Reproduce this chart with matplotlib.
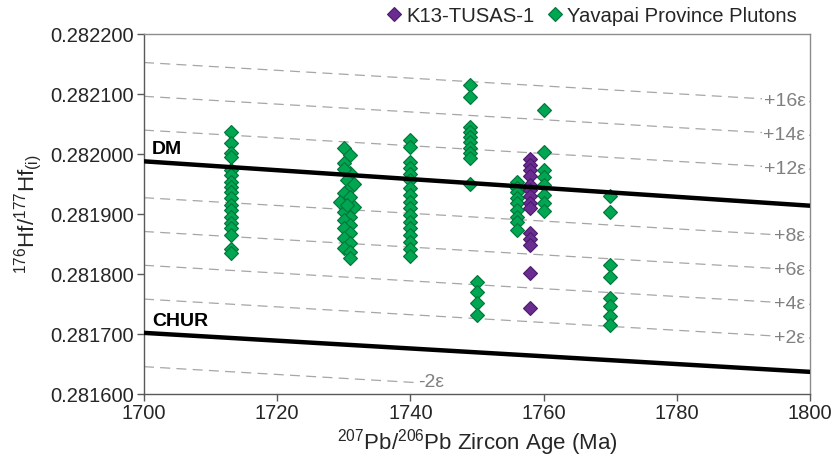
import numpy as np
import matplotlib
matplotlib.use("Agg")
import matplotlib.pyplot as plt
from matplotlib.lines import Line2D

plt.rcParams['font.family'] = ['Liberation Sans', 'DejaVu Sans']
plt.rcParams['mathtext.fontset'] = 'custom'
plt.rcParams['mathtext.rm'] = 'Liberation Sans'
plt.rcParams['mathtext.default'] = 'regular'

# Yavapai Province plutons: zircon age (Ma) and initial 176Hf/177Hf
yavapai_age = [1713] * 18 + [1730, 1731, 1730, 1731, 1730.5, 1731, 1730, 1731, 1729.5, 1731.5,
                             1730, 1731, 1730, 1731, 1730, 1731, 1730, 1731, 1730, 1731, 1731,
                             1731.5, 1730, 1730.5] \
    + [1740] * 17 + [1749] * 10 + [1750] * 4 + [1756] * 9 + [1760] * 8 + [1770] * 8
yavapai_hf = [
    # 1713
    0.282037, 0.282018, 0.282002, 0.281995, 0.281973, 0.281965, 0.281953, 0.281945, 0.281937,
    0.281927, 0.281915, 0.281907, 0.281895, 0.281885, 0.281877, 0.281865, 0.281842, 0.281835,
    # 1730-1732
    0.282010, 0.281998, 0.281985, 0.281968, 0.281957, 0.281943, 0.281935, 0.281928, 0.281920,
    0.281912, 0.281903, 0.281895, 0.281890, 0.281882, 0.281877, 0.281868, 0.281860, 0.281852,
    0.281843, 0.281837, 0.281827, 0.281950, 0.281975, 0.281915,
    # 1740
    0.282023, 0.282012, 0.281987, 0.281977, 0.281967, 0.281957, 0.281943, 0.281932, 0.281920,
    0.281910, 0.281898, 0.281887, 0.281877, 0.281865, 0.281853, 0.281842, 0.281830,
    # 1749
    0.282115, 0.282095, 0.282045, 0.282037, 0.282028, 0.282020, 0.282010, 0.282002, 0.281993,
    0.281950,
    # 1750
    0.281787, 0.281770, 0.281752, 0.281732,
    # 1756
    0.281953, 0.281943, 0.281937, 0.281927, 0.281918, 0.281907, 0.281895, 0.281887, 0.281873,
    # 1760
    0.282073, 0.282003, 0.281973, 0.281962, 0.281948, 0.281932, 0.281918, 0.281905,
    # 1770
    0.281930, 0.281903, 0.281815, 0.281795, 0.281760, 0.281747, 0.281730, 0.281715,
]

# K13-TUSAS-1
tusas_age = [1758] * 14
tusas_hf = [0.281992, 0.281982, 0.281973, 0.281963, 0.281948, 0.281940, 0.281930, 0.281918,
            0.281910, 0.281868, 0.281858, 0.281848, 0.281802, 0.281743]

# Reference evolution lines (endpoints at 1700 and 1800 Ma)
model_age = [1700, 1800]
dm_hf = [0.281988, 0.281914]
chur_hf = [0.281702, 0.281637]

# Epsilon-Hf contours relative to CHUR, with the labels shown at their right ends
eps_levels = [16, 14, 12, 8, 6, 4, 2]
eps_labels = ['+16ε', '+14ε', '+12ε', '+8ε', '+6ε', '+4ε', '+2ε']
neg_level = -2
neg_label = '-2ε'
neg_end_age = 1741

x_ticks = [1700, 1720, 1740, 1760, 1780, 1800]
y_ticks = [0.2816, 0.2817, 0.2818, 0.2819, 0.2820, 0.2821, 0.2822]

fig = plt.figure(figsize=(8.36, 4.68), dpi=100)
ax = fig.add_axes([0.1722, 0.158, 0.7968, 0.769])

grey = '#a6a6a6'
chur_arr = np.array(chur_hf)
for lev, lab in zip(eps_levels, eps_labels):
    yv = chur_arr * (1 + lev / 1e4)
    ax.plot(model_age, yv, color=grey, lw=0.9, dashes=(8, 5), zorder=1)
    ax.text(1799.3, yv[1], lab, ha='right', va='center', fontsize=14, color='#808080',
            bbox=dict(facecolor='white', edgecolor='none', pad=1.0), zorder=2)

# -2 epsilon contour stops at its label
ages_neg = np.array([model_age[0], neg_end_age])
chur_neg = np.interp(ages_neg, model_age, chur_hf)
ax.plot(ages_neg, chur_neg * (1 + neg_level / 1e4), color=grey, lw=0.9, dashes=(8, 5), zorder=1)
ax.text(neg_end_age + 0.2, chur_neg[1] * (1 + neg_level / 1e4), neg_label, ha='left', va='center',
        fontsize=14, color='#808080', zorder=2)

green_fc, green_ec = '#00a651', '#00753a'
purple_fc, purple_ec = '#6a2c91', '#4a1a6b'
msize = 7.6

ax.plot(yavapai_age, yavapai_hf, linestyle='none', marker='D', markersize=msize,
        markerfacecolor=green_fc, markeredgecolor=green_ec, markeredgewidth=0.8, zorder=3)
ax.plot(tusas_age, tusas_hf, linestyle='none', marker='D', markersize=msize,
        markerfacecolor=purple_fc, markeredgecolor=purple_ec, markeredgewidth=0.8, zorder=4)

ax.plot(model_age, dm_hf, color='black', lw=3.2, zorder=5, solid_capstyle='butt')
ax.plot(model_age, chur_hf, color='black', lw=3.2, zorder=5, solid_capstyle='butt')
ax.text(1701.2, dm_hf[0] + 0.000006, 'DM', fontsize=14, fontweight='bold', ha='left', va='bottom')
ax.text(1701.2, chur_hf[0] + 0.000004, 'CHUR', fontsize=14, fontweight='bold', ha='left', va='bottom')

ax.set_xlim(1700, 1800)
ax.set_ylim(0.2816, 0.2822)
ax.set_xticks(x_ticks)
ax.set_yticks(y_ticks)
ax.set_yticklabels([f'{v:.6f}' for v in y_ticks])
ax.tick_params(axis='both', direction='out', length=5, width=1, colors='#595959',
               labelcolor='#262626', labelsize=14.5, pad=2)
ax.tick_params(top=False, right=False)
for side in ['left', 'bottom']:
    ax.spines[side].set_color('#595959')
    ax.spines[side].set_linewidth(1.0)
for side in ['top', 'right']:
    ax.spines[side].set_color('#8c8c8c')
    ax.spines[side].set_linewidth(1.0)

ax.set_xlabel('$^{207}$Pb/$^{206}$Pb Zircon Age (Ma)', fontsize=16, color='#262626', labelpad=3)
ax.set_ylabel('$^{176}$Hf/$^{177}$Hf$_{(i)}$', fontsize=16, color='#262626', labelpad=5)

handles = [
    Line2D([], [], linestyle='none', marker='D', markersize=msize, markerfacecolor=purple_fc,
           markeredgecolor=purple_ec, markeredgewidth=0.8, label='K13-TUSAS-1'),
    Line2D([], [], linestyle='none', marker='D', markersize=msize, markerfacecolor=green_fc,
           markeredgecolor=green_ec, markeredgewidth=0.8, label='Yavapai Province Plutons'),
]
fig.legend(handles=handles, loc='upper right', bbox_to_anchor=(0.975, 1.025), ncol=2, frameon=False,
           fontsize=14.6, handlelength=0.8, handletextpad=0.2, columnspacing=0.6,
           labelcolor='#262626')

fig.savefig('out.png', dpi=100)
